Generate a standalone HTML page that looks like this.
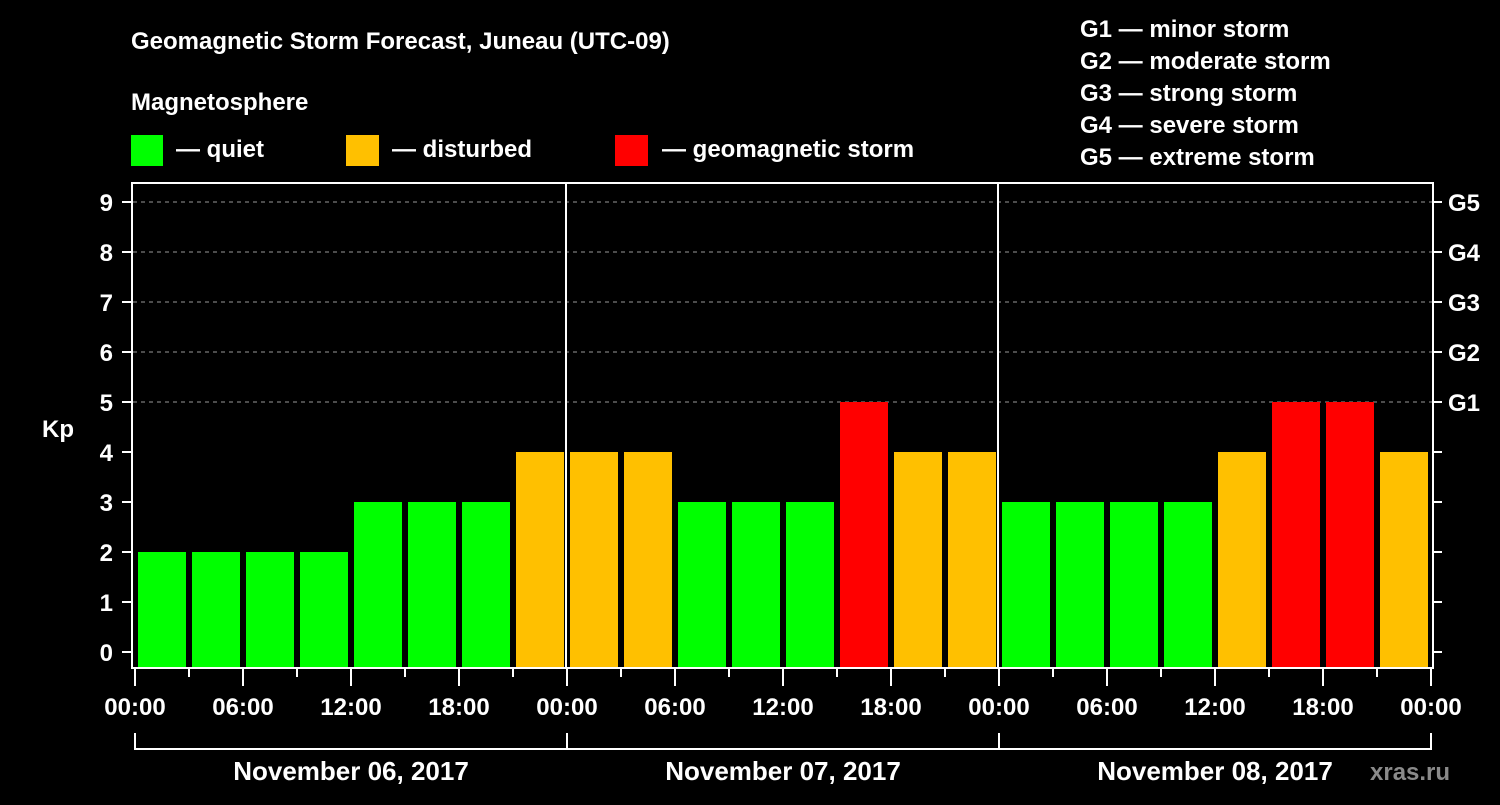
<!DOCTYPE html>
<html><head><meta charset="utf-8"><style>
body{margin:0;background:#000;width:1500px;height:800px;overflow:hidden}
svg text{font-family:"Liberation Sans",sans-serif;font-weight:bold;fill:#fff}
</style></head><body>
<svg id="c" width="1500" height="800">
<text x="131" y="49" font-size="24">Geomagnetic Storm Forecast, Juneau (UTC-09)</text>
<text x="131" y="110" font-size="24">Magnetosphere</text>
<g><rect x="131" y="135" width="32" height="31" fill="#00ff00"/><text x="176" y="157" font-size="24">— quiet</text></g>
<g><rect x="346" y="135" width="33" height="31" fill="#ffc000"/><text x="392" y="157" font-size="24">— disturbed</text></g>
<g><rect x="615" y="135" width="33" height="31" fill="#ff0000"/><text x="662" y="157" font-size="24">— geomagnetic storm</text></g>
<g font-size="24">
<text x="1080" y="37" font-size="24">G1 — minor storm</text>
<text x="1080" y="69" font-size="24">G2 — moderate storm</text>
<text x="1080" y="101" font-size="24">G3 — strong storm</text>
<text x="1080" y="133" font-size="24">G4 — severe storm</text>
<text x="1080" y="165" font-size="24">G5 — extreme storm</text>
</g>
<text x="42" y="437" font-size="24">Kp</text>
<text x="1370" y="780" font-size="24" fill="#888" style="fill:#8a8a8a">xras.ru</text>
<g id="grid"></g><g id="bars"></g><g id="axes"></g>
</svg>
<script>
const kpValues=[2,2,2,2,3,3,3,4, 4,4,3,3,3,5,4,4, 3,3,3,3,4,5,5,4];
const dayLabels=["November 06, 2017","November 07, 2017","November 08, 2017"];
const hourLabels=["00:00","06:00","12:00","18:00"];
const yTicks=[0,1,2,3,4,5,6,7,8,9];
const gLabels=["G1","G2","G3","G4","G5"];
const NS="http://www.w3.org/2000/svg";
const X0=135,DAYW=432,L=133,R=1433,T=183,B=668;
const xS=h=>X0+h*DAYW/24;
const yS=v=>652-50*v;
function mk(t,a,p){const e=document.createElementNS(NS,t);for(const k in a)e.setAttribute(k,a[k]);p.appendChild(e);return e;}
const grid=document.getElementById('grid'),bars=document.getElementById('bars'),axes=document.getElementById('axes');
for(let v=5;v<=9;v++){const l=mk('line',{x1:L,x2:R,y1:yS(v),y2:yS(v),stroke:'#999','stroke-dasharray':'4 4','stroke-width':1},grid);

}
kpValues.forEach((v,i)=>{const c=v>=5?'#ff0000':(v>=4?'#ffc000':'#00ff00');
const r=mk('rect',{x:xS(i*3)+3,y:yS(v),width:48,height:B-1-yS(v),fill:c},bars);

});
for(let d=1;d<dayLabels.length;d++){const l=mk('line',{x1:xS(d*24)-1,x2:xS(d*24)-1,y1:T,y2:B,stroke:'#fff','stroke-width':2},axes);

}
const fr=mk('rect',{x:L-1,y:T,width:R-L+1,height:B-T,fill:'none',stroke:'#fff','stroke-width':2},axes);


yTicks.forEach(v=>{mk('line',{x1:122,x2:L,y1:yS(v),y2:yS(v),stroke:'#fff','stroke-width':2},axes);
mk('line',{x1:R,x2:1442,y1:yS(v),y2:yS(v),stroke:'#fff','stroke-width':2},axes);
const t=mk('text',{x:113,y:yS(v)+9,'text-anchor':'end','font-size':24},axes);t.textContent=v;

});
gLabels.forEach((g,i)=>{const t=mk('text',{x:1448,y:yS(5+i)+9,'font-size':24},axes);t.textContent=g;

});
for(let h=0;h<=72;h+=3){const major=h%6===0;mk('line',{x1:xS(h),x2:xS(h),y1:B,y2:major?686:677,stroke:'#fff','stroke-width':2},axes);
if(major){const t=mk('text',{x:xS(h),y:715,'text-anchor':'middle','font-size':24},axes);t.textContent=hourLabels[(h/6)%4];

}}
dayLabels.forEach((d,i)=>{mk('polyline',{points:`${xS(i*24)},733 ${xS(i*24)},749 ${xS(i*24+24)},749 ${xS(i*24+24)},733`,fill:'none',stroke:'#fff','stroke-width':2},axes);
const t=mk('text',{x:xS(i*24+12),y:780,'text-anchor':'middle','font-size':26},axes);t.textContent=d;

});
</script>
</body></html>
